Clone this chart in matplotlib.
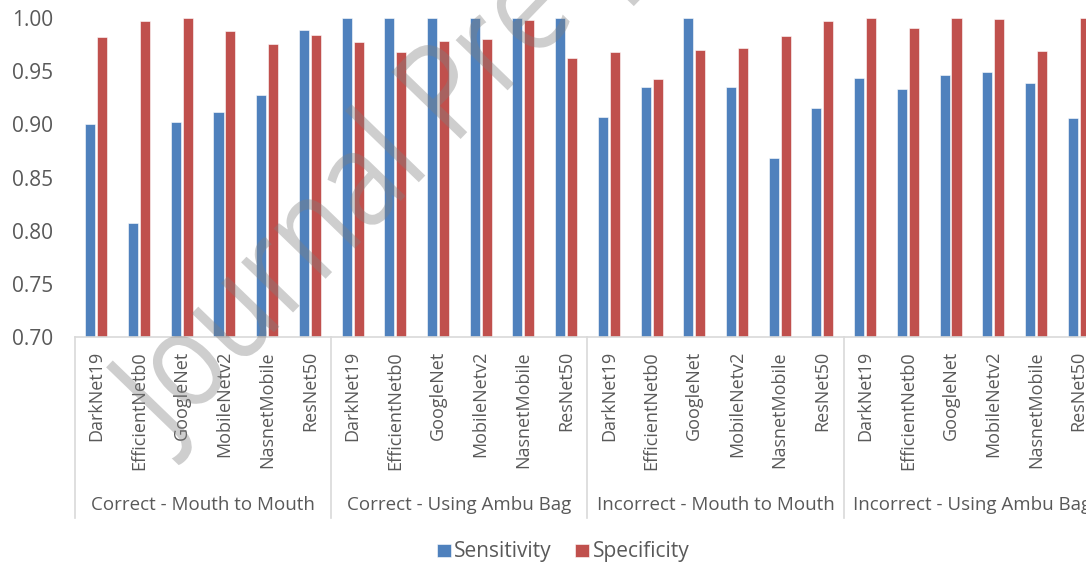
import numpy as np
import matplotlib.pyplot as plt
import matplotlib.transforms as mtransforms
from matplotlib.textpath import TextPath
from matplotlib.patches import PathPatch
from matplotlib.font_manager import FontProperties

plt.rcParams['font.family'] = ['Open Sans', 'DejaVu Sans']

# ===== DATA =====
groups = ["Correct - Mouth to Mouth", "Correct - Using Ambu Bag",
          "Incorrect - Mouth to Mouth", "Incorrect - Using Ambu Bag"]
models = ["DarkNet19", "EfficientNetb0", "GoogleNet",
          "MobileNetv2", "NasnetMobile", "ResNet50"]

sensitivity = [
    0.900, 0.807, 0.902, 0.912, 0.928, 0.989,   # correct - mouth to mouth
    1.000, 1.000, 1.000, 1.000, 1.000, 1.000,   # correct - ambu bag
    0.907, 0.935, 1.000, 0.935, 0.868, 0.915,   # incorrect - mouth to mouth
    0.944, 0.933, 0.946, 0.949, 0.939, 0.906,   # incorrect - ambu bag
]
specificity = [
    0.982, 0.997, 1.000, 0.988, 0.976, 0.984,
    0.977, 0.968, 0.978, 0.980, 0.998, 0.962,
    0.968, 0.943, 0.970, 0.972, 0.983, 0.997,
    1.000, 0.991, 1.000, 0.999, 0.969, 1.000,
]

yticks = [0.70, 0.75, 0.80, 0.85, 0.90, 0.95, 1.00]

# ===== STYLE =====
BLUE = "#4F81BD"
RED = "#C0504D"
TEXT = "#595959"
LINE = "#D9D9D9"

fig = plt.figure(figsize=(10.86, 5.69), dpi=100)
ax = fig.add_axes([75 / 1086, 1 - 337 / 569, 1025 / 1086, 319 / 569])

labels = models * len(groups)
x = np.arange(len(labels))
w = 0.235
off = 0.14

ax.bar(x - off, sensitivity, w, color=BLUE, edgecolor="white", linewidth=0.4,
       label="Sensitivity")
ax.bar(x + off, specificity, w, color=RED, edgecolor="white", linewidth=0.4,
       label="Specificity")

ax.set_ylim(0.70, 1.00)
ax.set_xlim(-0.5, len(labels) - 0.5)
ax.set_yticks(yticks, [f"{v:.2f}" for v in yticks])
ax.tick_params(axis="y", length=0, pad=16, labelsize=15, labelcolor=TEXT)
ax.set_xticks(x, labels, rotation=90)
ax.tick_params(axis="x", length=0, pad=10, labelsize=13, labelcolor=TEXT)

for s in ["top", "right", "left"]:
    ax.spines[s].set_visible(False)
ax.spines["bottom"].set_color(LINE)
ax.spines["bottom"].set_linewidth(1.2)

# group boxes below the axis
trans = mtransforms.blended_transform_factory(ax.transData, ax.transAxes)
n = len(models)
for i in range(len(groups) + 1):
    xb = i * n - 0.5
    ax.plot([xb, xb], [0, -0.567], color=LINE, lw=1.2,
            transform=trans, clip_on=False)
for i, g in enumerate(groups):
    ax.text(i * n + (n - 1) / 2, -0.527, g, transform=trans,
            ha="center", va="center", fontsize=13.5, color=TEXT)

leg = fig.legend(loc="center", bbox_to_anchor=(563 / 1086, 1 - 552 / 569),
                 ncol=2, frameon=False, fontsize=15, handlelength=0.7,
                 handleheight=0.6, handletextpad=0.15, columnspacing=1.1)
for t in leg.get_texts():
    t.set_color(TEXT)

# watermark: slightly condensed text path, placed in pixel coordinates
wm = TextPath((0, 0), "Journal Pre-proof", size=135,
              prop=FontProperties(family="Open Sans"))
wm_tr = mtransforms.Affine2D().scale(0.85, 1).rotate_deg(46).translate(168, 127)
fig.add_artist(PathPatch(wm_tr.transform_path(wm),
                         transform=mtransforms.IdentityTransform(),
                         fc="#808080", ec="none", alpha=0.38, zorder=10))

fig.savefig("out.png", dpi=100)
